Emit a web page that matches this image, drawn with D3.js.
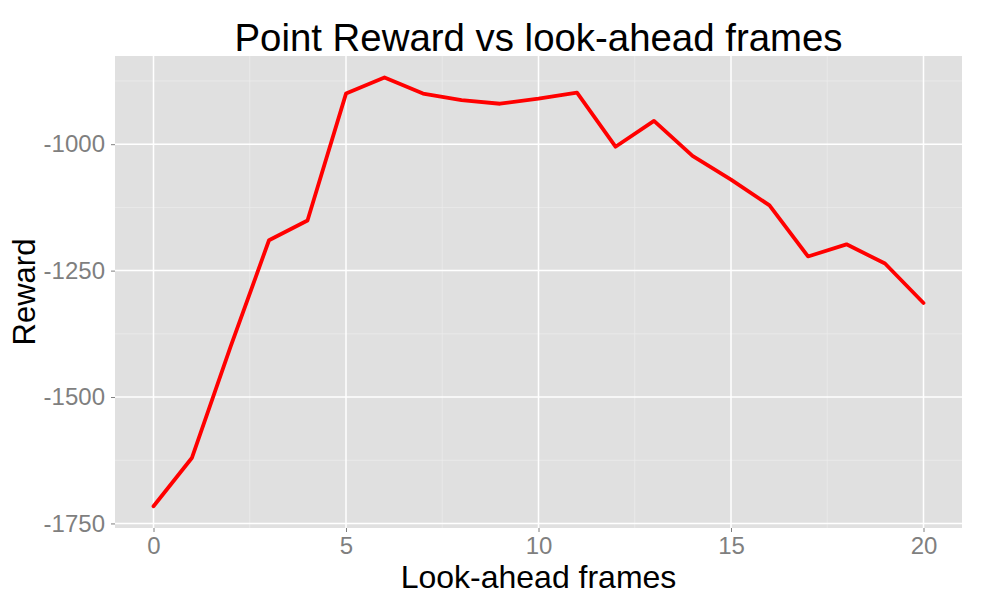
<!DOCTYPE html>
<html><head><meta charset="utf-8">
<script src="https://cdn.jsdelivr.net/npm/d3@7"></script>
<style>body{margin:0;background:#fff;} svg{display:block;font-family:"Liberation Sans",Arial,sans-serif;}</style>
</head><body>
<svg id="c" width="981" height="597"></svg>
<script>
const frames = [0,1,2,3,4,5,6,7,8,9,10,11,12,13,14,15,16,17,18,19,20];
const rewards = [-1716,-1620,-1401,-1190,-1151,-900,-868,-900,-913,-920,-910,-898,-1005,-954,-1023,-1070,-1121,-1222,-1198,-1236,-1314];
const xTicks = [0,5,10,15,20];
const yTicks = [-1750,-1500,-1250,-1000];
const xMinor = [2.5,7.5,12.5,17.5];
const yMinor = [-1625,-1375,-1125,-875];

const svg = d3.select("#c");
const L = 115, R = 962, T = 56, B = 528;
const x = d3.scaleLinear().domain([-1,21]).range([L,R]);
const y = d3.scaleLinear().domain([-1759,-825.6]).range([B,T]);

svg.append("rect").attr("x",L).attr("y",T).attr("width",R-L).attr("height",B-T).attr("fill","#E0E0E0");

const g = svg.append("g");
g.selectAll(".xm").data(xMinor).join("line").attr("x1",d=>x(d)).attr("x2",d=>x(d)).attr("y1",T).attr("y2",B).attr("stroke","#EBEBEB").attr("stroke-width",0.8);
g.selectAll(".ym").data(yMinor).join("line").attr("y1",d=>y(d)).attr("y2",d=>y(d)).attr("x1",L).attr("x2",R).attr("stroke","#EBEBEB").attr("stroke-width",0.8);

const xAxis = svg.append("g").attr("transform",`translate(0,${B})`)
  .call(d3.axisBottom(x).tickValues(xTicks).tickSize(4).tickPadding(5).tickFormat(d3.format("d")));
const yAxis = svg.append("g").attr("transform",`translate(${L},0)`)
  .call(d3.axisLeft(y).tickValues(yTicks).tickSize(4).tickPadding(6).tickFormat(d=>String(d)));
[xAxis,yAxis].forEach(a=>{
  a.select(".domain").remove();
  a.selectAll("line").attr("stroke","#7F7F7F");
  a.selectAll("text").attr("fill","#7F7F7F").style("font-size","24px").style("font-family","'Liberation Sans',Arial,sans-serif");
});
xAxis.selectAll("text").attr("dy","0.71em");

g.selectAll(".xM").data(xTicks).join("line").attr("x1",d=>x(d)).attr("x2",d=>x(d)).attr("y1",T).attr("y2",B).attr("stroke","#fff").attr("stroke-width",1.5);
g.selectAll(".yM").data(yTicks).join("line").attr("y1",d=>y(d)).attr("y2",d=>y(d)).attr("x1",L).attr("x2",R).attr("stroke","#fff").attr("stroke-width",1.5);

const line = d3.line().x((d,i)=>x(frames[i])).y(d=>y(d));
svg.append("path").datum(rewards).attr("d",line).attr("fill","none").attr("stroke","#FF0000").attr("stroke-width",3.8).attr("stroke-linejoin","round").attr("stroke-linecap","round");

svg.append("text").attr("x",(L+R)/2).attr("y",51).attr("text-anchor","middle").style("font-size","38.4px").attr("fill","#000").text("Point Reward vs look-ahead frames");
svg.append("text").attr("x",(L+R)/2).attr("y",588).attr("text-anchor","middle").style("font-size","32px").attr("fill","#000").text("Look-ahead frames");
svg.append("text").attr("transform",`translate(35,${(T+B)/2}) rotate(-90)`).attr("text-anchor","middle").style("font-size","31px").attr("fill","#000").text("Reward");
</script>
</body></html>
